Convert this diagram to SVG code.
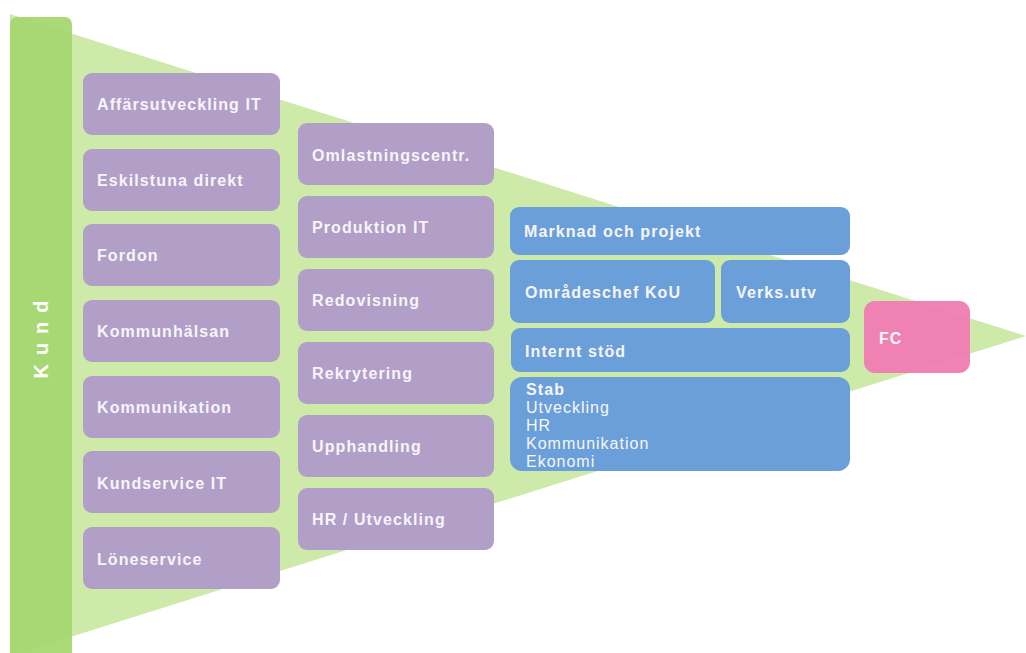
<svg xmlns="http://www.w3.org/2000/svg" width="1026" height="653" viewBox="0 0 1026 653">
<style>
.p{fill:#b19fc7}
.b{fill:#6b9fd9}
.t{font-family:"Liberation Sans",Arial,sans-serif;font-weight:bold;font-size:16px;letter-spacing:1.1px;fill:#f7f5fa}
.n{font-family:"Liberation Sans",Arial,sans-serif;font-size:16px;letter-spacing:1px;fill:#f7f7fb}
</style>
<rect width="1026" height="653" fill="#ffffff"/>
<polygon points="10,14 1026,336 10,656" fill="#cdeaa9"/>
<g id="kund">
<rect x="10" y="17" width="62" height="650" rx="7" fill="#a5d770" opacity="0.95"/>
<text x="48" y="335" transform="rotate(-90 48 335)" text-anchor="middle" font-family="Liberation Sans, Arial, sans-serif" font-weight="bold" font-size="20" fill="#ffffff" letter-spacing="9">Kund</text>
</g>
<g id="c1">
<g id="n1"><rect class="p" x="83" y="73" width="197" height="62" rx="9"/><text class="t" x="97" y="110">Affärsutveckling IT</text></g>
<g id="n2"><rect class="p" x="83" y="149" width="197" height="62" rx="9"/><text class="t" x="97" y="186">Eskilstuna direkt</text></g>
<g id="n3"><rect class="p" x="83" y="224" width="197" height="62" rx="9"/><text class="t" x="97" y="261">Fordon</text></g>
<g id="n4"><rect class="p" x="83" y="300" width="197" height="62" rx="9"/><text class="t" x="97" y="337">Kommunhälsan</text></g>
<g id="n5"><rect class="p" x="83" y="376" width="197" height="62" rx="9"/><text class="t" x="97" y="413">Kommunikation</text></g>
<g id="n6"><rect class="p" x="83" y="451" width="197" height="62" rx="9"/><text class="t" x="97" y="489">Kundservice IT</text></g>
<g id="n7"><rect class="p" x="83" y="527" width="197" height="62" rx="9"/><text class="t" x="97" y="565">Löneservice</text></g>
</g>
<g id="c2">
<g id="m1"><rect class="p" x="298" y="123" width="196" height="62" rx="9"/><text class="t" x="312" y="161">Omlastningscentr.</text></g>
<g id="m2"><rect class="p" x="298" y="196" width="196" height="62" rx="9"/><text class="t" x="312" y="233">Produktion IT</text></g>
<g id="m3"><rect class="p" x="298" y="269" width="196" height="62" rx="9"/><text class="t" x="312" y="306">Redovisning</text></g>
<g id="m4"><rect class="p" x="298" y="342" width="196" height="62" rx="9"/><text class="t" x="312" y="379">Rekrytering</text></g>
<g id="m5"><rect class="p" x="298" y="415" width="196" height="62" rx="9"/><text class="t" x="312" y="452">Upphandling</text></g>
<g id="m6"><rect class="p" x="298" y="488" width="196" height="62" rx="9"/><text class="t" x="312" y="525">HR / Utveckling</text></g>
</g>
<g id="c3">
<g id="b1"><rect class="b" x="510" y="207" width="340" height="48" rx="9"/><text class="t" x="524" y="237">Marknad och projekt</text></g>
<g id="b2"><rect class="b" x="510" y="260" width="205" height="63" rx="9"/><text class="t" x="525" y="298">Områdeschef KoU</text></g>
<g id="b3"><rect class="b" x="721" y="260" width="129" height="63" rx="9"/><text class="t" x="736" y="298">Verks.utv</text></g>
<g id="b4"><rect class="b" x="511" y="328" width="339" height="44" rx="9"/><text class="t" x="525" y="357">Internt stöd</text></g>
<g id="b5"><rect class="b" x="510" y="377" width="340" height="94" rx="12"/>
<text class="t" x="526" y="395">Stab</text>
<text class="n" x="526" y="413">Utveckling</text>
<text class="n" x="526" y="431">HR</text>
<text class="n" x="526" y="449">Kommunikation</text>
<text class="n" x="526" y="467">Ekonomi</text></g>
</g>
<g id="fc"><rect x="864" y="301" width="106" height="72" rx="11" fill="#f07cb2" opacity="0.95"/><text class="t" x="879" y="344">FC</text></g>
<g id="connectors"></g>
</svg>
